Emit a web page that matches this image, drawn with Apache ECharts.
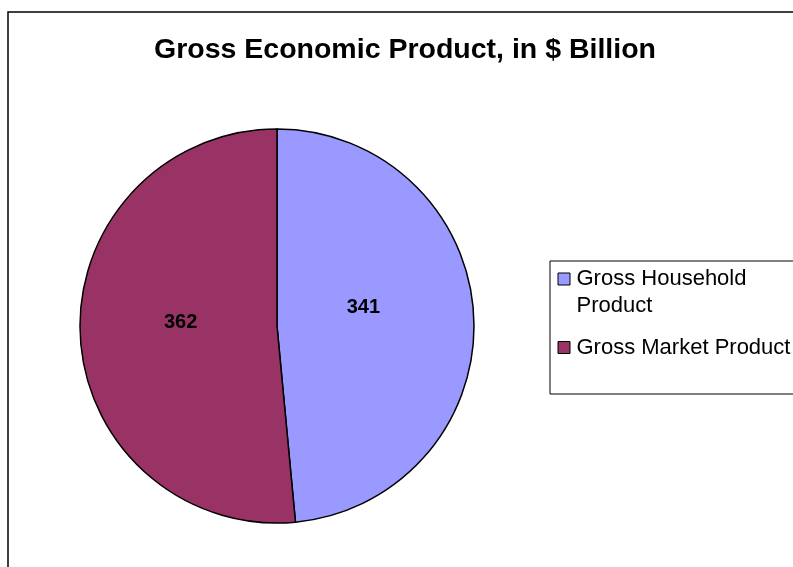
<!DOCTYPE html>
<html>
<head>
<meta charset="utf-8">
<script src="https://cdn.jsdelivr.net/npm/echarts@6/dist/echarts.min.js"></script>
<style>
html,body{margin:0;padding:0;background:#fff;}
#chart{width:793px;height:567px;}
</style>
</head>
<body>
<div id="chart"></div>
<script>
const titleText = 'Gross Economic Product, in $ Billion';
const categories = ['Gross Household Product', 'Gross Market Product'];
const legendLabels = ['Gross Household\nProduct', 'Gross Market Product'];
const values = [341, 362];
const colors = ['#9999FF', '#993366'];

const FONT = '"Liberation Sans", Arial, sans-serif';
const chart = echarts.init(document.getElementById('chart'), null, {renderer: 'canvas'});

const labelStyles = [
  {formatter: '{c}\n', lineHeight: 28, padding: [0, 30, 0, 0]},
  {formatter: '{c}\n', lineHeight: 16, padding: [0, 0, 0, 10]}
];
const icons = [
  'path://M0,0M14,54M0.5,7.5h12v12h-12z',
  'path://M0,0M14,54M0.5,21h12v12h-12z'
];

chart.setOption({
  animation: false,
  backgroundColor: '#fff',
  title: {
    text: titleText,
    left: 154,
    top: 36,
    padding: 0,
    textStyle: {fontFamily: FONT, fontSize: 28.5, fontWeight: 'bold', color: '#000'}
  },
  graphic: [{
    type: 'rect',
    shape: {x: 8, y: 12, width: 1000, height: 1000},
    style: {fill: 'none', stroke: '#000', lineWidth: 1.5},
    silent: true
  }],
  legend: {
    orient: 'vertical',
    left: 550,
    top: 261,
    padding: [4, 60, 19, 7],
    itemGap: 0,
    itemWidth: 14,
    itemHeight: 54,
    itemTextGap: 11,
    borderColor: '#000',
    borderWidth: 1,
    backgroundColor: '#fff',
    itemStyle: {borderColor: '#000', borderWidth: 1},
    data: categories.map((c, i) => ({name: c, icon: icons[i]})),
    formatter: name => legendLabels[categories.indexOf(name)],
    textStyle: {fontFamily: FONT, fontSize: 22, lineHeight: 27, color: '#000'}
  },
  series: [{
    type: 'pie',
    center: [277, 326],
    radius: 197,
    startAngle: 90,
    clockwise: true,
    avoidLabelOverlap: false,
    emphasis: {disabled: true},
    itemStyle: {borderColor: '#000', borderWidth: 1.5},
    label: {
      show: true,
      position: 'inside',
      formatter: '{c}',
      fontFamily: FONT,
      fontSize: 20,
      fontWeight: 'bold',
      color: '#000'
    },
    labelLine: {show: false},
    data: categories.map((c, i) => ({
      name: c,
      value: values[i],
      itemStyle: {color: colors[i]},
      label: labelStyles[i]
    }))
  }]
});
</script>
</body>
</html>
